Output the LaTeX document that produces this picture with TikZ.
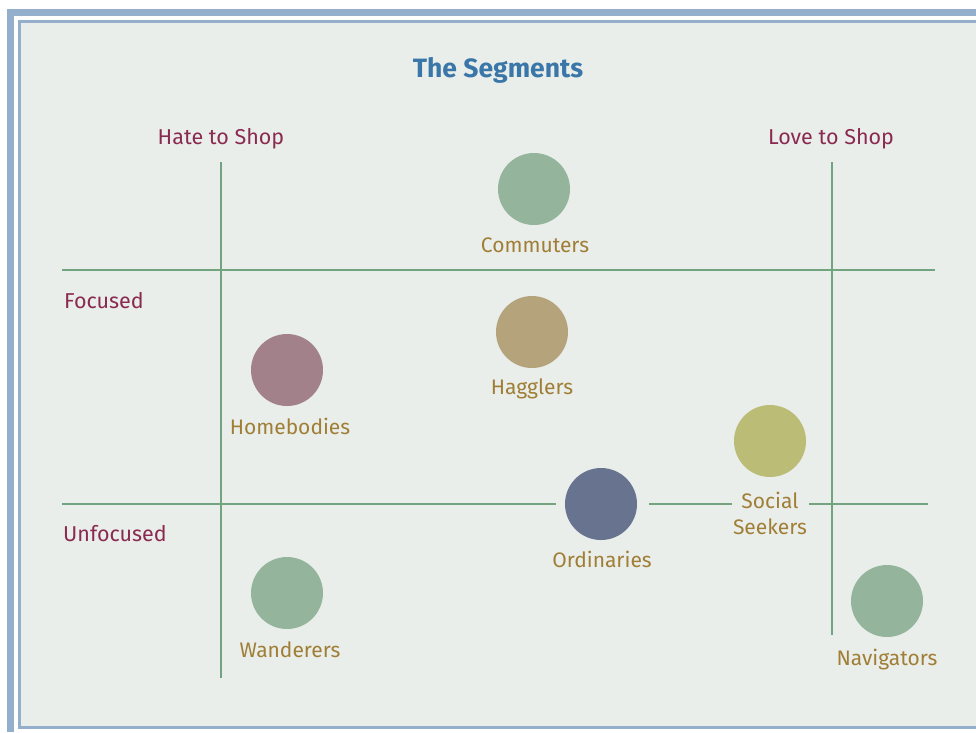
\documentclass[tikz,border=0pt]{standalone}
\usepackage{fontspec}
\setmainfont{Fira Sans}
\begin{document}
\definecolor{panel}{HTML}{E9EEEA}
\definecolor{frameblue}{HTML}{93AFCC}
\definecolor{axisgreen}{HTML}{72A47F}
\definecolor{sage}{HTML}{94B49B}
\definecolor{tan}{HTML}{B4A37B}
\definecolor{mauve}{HTML}{A2818A}
\definecolor{olive}{HTML}{BBBD76}
\definecolor{slate}{HTML}{67738F}
\definecolor{gold}{HTML}{A07E36}
\definecolor{maroon}{HTML}{8A2A50}
\definecolor{titleblue}{HTML}{3A77A8}
\begin{tikzpicture}[x=1pt,y=-1pt,
  axis/.style={draw=axisgreen,line width=1.1pt},
  seg/.style={circle,minimum size=72pt,inner sep=0pt,draw=none},
  seglabel/.style={text=gold,font=\fontsize{21}{26}\selectfont,inner sep=0pt,align=center},
  endlabel/.style={text=maroon,font=\fontsize{21.5}{26}\selectfont,inner sep=0pt},
]
\useasboundingbox (0,0) rectangle (976,732);
% frame
\fill[white] (0,0) rectangle (976,732);
\fill[frameblue] (7,9) rectangle (976,732);
\fill[white] (13.5,16) rectangle (976,732);
\fill[frameblue] (18,20) rectangle (976,729);
\fill[panel] (20.5,22.5) rectangle (976,726);

% title
\node[text=titleblue,font=\fontsize{26.5}{30}\selectfont\bfseries] (title) at (498,70) {The Segments};

% axis labels
\node[endlabel] (hate) at (221,139) {Hate to Shop};
\node[endlabel] (love) at (831,139) {Love to Shop};
\node[endlabel,anchor=west] (focused) at (64,301) {Focused};
\node[endlabel,anchor=west] (unfocused) at (63,534) {Unfocused};

% grid lines
\coordinate (hateTop) at (221,162);
\coordinate (hateBot) at (221,678);
\coordinate (loveTop) at (832,162);
\coordinate (loveBot) at (832,635);
\coordinate (focL) at (62,270);
\coordinate (focR) at (935,270);
\coordinate (unfL) at (62,504);
\coordinate (unfA) at (556,504);
\coordinate (unfB) at (649,504);
\coordinate (unfC) at (732,504);
\coordinate (unfD) at (809,504);
\coordinate (unfR) at (928,504);
\draw[axis] (hateTop) -- (hateBot);
\draw[axis] (loveTop) -- (loveBot);
\draw[axis] (focL) -- (focR);
\draw[axis] (unfL) -- (unfA);
\draw[axis] (unfB) -- (unfC);
\draw[axis] (unfD) -- (unfR);

% segments
\node[seg,fill=sage]  (commuters)  at (534,189) {};
\node[seglabel]       (commutersL) at (535,245) {Commuters};
\node[seg,fill=tan]   (hagglers)   at (532,332) {};
\node[seglabel]       (hagglersL)  at (532,389) {Hagglers};
\node[seg,fill=mauve] (homebodies) at (287,370) {};
\node[seglabel]       (homebodiesL) at (290,426) {Homebodies};
\node[seg,fill=olive] (social)     at (770,441) {};
\node[seglabel]       (socialL)    at (770,513) {Social\\Seekers};
\node[seg,fill=slate] (ordinaries) at (601,504) {};
\node[seglabel]       (ordinariesL) at (602,559) {Ordinaries};
\node[seg,fill=sage]  (wanderers)  at (287,593) {};
\node[seglabel]       (wanderersL) at (290,650) {Wanderers};
\node[seg,fill=sage]  (navigators) at (887,601) {};
\node[seglabel]       (navigatorsL) at (887,660) {Navigators};
\end{tikzpicture}
\end{document}
